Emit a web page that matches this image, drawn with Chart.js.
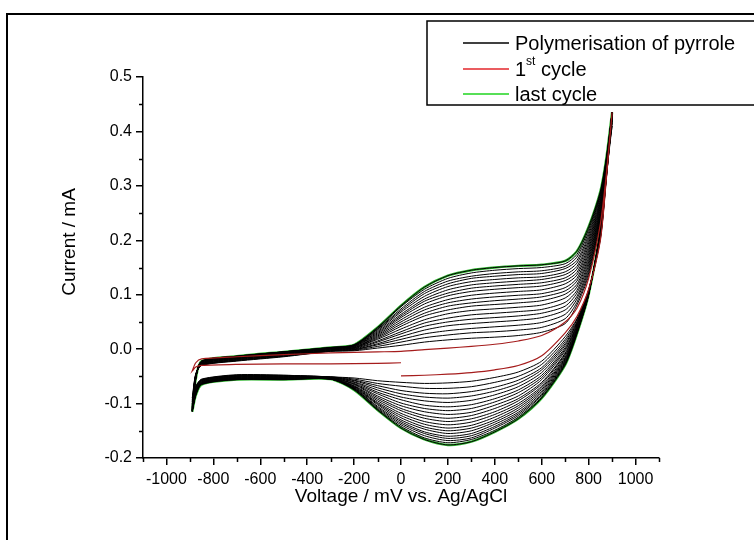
<!DOCTYPE html>
<html>
<head>
<meta charset="utf-8">
<title>Polymerisation of pyrrole</title>
<script src="https://cdn.jsdelivr.net/npm/chart.js@4.4.1/dist/chart.umd.min.js"></script>
<style>
  html, body { margin: 0; padding: 0; background: #fff; }
  canvas { display: block; }
</style>
</head>
<body>
<canvas id="cvChart" width="754" height="540"></canvas>
<script>
const FONT = '"Liberation Sans", Arial, sans-serif';

// potential grid (mV vs. Ag/AgCl) for the anodic and cathodic sweeps
const upVolts = [-890, -875, -850, -700, -500, -300, -200, -100, 0, 100, 200, 300, 400, 500, 600, 700, 750, 800, 850, 875, 900];
const downVolts = [900, 875, 850, 800, 750, 700, 600, 500, 400, 300, 200, 100, 0, -100, -200, -300, -500, -700, -850, -875, -890];

// first cycle starts at 0 mV and sweeps negative first
const firstSweepVolts = [0, -100, -300, -500, -700, -850, -875, -890];
const firstSweepCurrents = [-0.025, -0.026, -0.027, -0.027, -0.028, -0.030, -0.033, -0.040];

// current (mA) on the anodic sweep, one row per cycle (row 0 = 1st cycle)
const upCurrents = [
  [-0.040, -0.025, -0.018, -0.014, -0.010, -0.007, -0.006, -0.005, -0.004, -0.001, 0.002, 0.005, 0.009, 0.015, 0.025, 0.050, 0.075, 0.130, 0.230, 0.320, 0.435],
  [-0.090, -0.045, -0.030, -0.022, -0.014, -0.004, -0.003, 0.002, 0.007, 0.013, 0.017, 0.020, 0.022, 0.025, 0.031, 0.047, 0.081, 0.135, 0.233, 0.322, 0.430],
  [-0.094, -0.046, -0.030, -0.021, -0.013, -0.004, -0.002, 0.005, 0.013, 0.021, 0.026, 0.030, 0.032, 0.035, 0.040, 0.056, 0.086, 0.140, 0.236, 0.323, 0.420],
  [-0.097, -0.047, -0.029, -0.021, -0.013, -0.003, -0.001, 0.008, 0.018, 0.028, 0.034, 0.038, 0.041, 0.044, 0.049, 0.064, 0.092, 0.145, 0.239, 0.325, 0.425],
  [-0.100, -0.047, -0.029, -0.020, -0.012, -0.003, -0.001, 0.010, 0.023, 0.035, 0.043, 0.047, 0.050, 0.053, 0.058, 0.072, 0.097, 0.150, 0.243, 0.326, 0.430],
  [-0.102, -0.048, -0.028, -0.020, -0.011, -0.002, 0.000, 0.013, 0.028, 0.042, 0.050, 0.055, 0.058, 0.061, 0.066, 0.079, 0.103, 0.155, 0.246, 0.328, 0.435],
  [-0.104, -0.048, -0.028, -0.019, -0.011, -0.002, 0.001, 0.015, 0.032, 0.048, 0.057, 0.063, 0.066, 0.069, 0.073, 0.086, 0.108, 0.160, 0.249, 0.329, 0.430],
  [-0.106, -0.049, -0.027, -0.018, -0.010, -0.001, 0.002, 0.018, 0.037, 0.054, 0.065, 0.071, 0.074, 0.077, 0.081, 0.094, 0.114, 0.165, 0.252, 0.331, 0.410],
  [-0.107, -0.049, -0.027, -0.018, -0.009, -0.001, 0.002, 0.020, 0.042, 0.061, 0.072, 0.079, 0.082, 0.085, 0.089, 0.101, 0.119, 0.170, 0.255, 0.333, 0.425],
  [-0.108, -0.050, -0.026, -0.017, -0.009, 0.000, 0.003, 0.022, 0.046, 0.066, 0.079, 0.085, 0.089, 0.092, 0.096, 0.107, 0.125, 0.175, 0.258, 0.334, 0.430],
  [-0.109, -0.050, -0.026, -0.017, -0.008, 0.000, 0.003, 0.024, 0.050, 0.072, 0.085, 0.092, 0.096, 0.099, 0.102, 0.113, 0.130, 0.180, 0.262, 0.336, 0.435],
  [-0.110, -0.051, -0.025, -0.016, -0.008, 0.001, 0.004, 0.026, 0.054, 0.077, 0.091, 0.099, 0.103, 0.106, 0.109, 0.120, 0.136, 0.185, 0.265, 0.337, 0.420],
  [-0.111, -0.051, -0.025, -0.016, -0.007, 0.001, 0.005, 0.028, 0.058, 0.083, 0.098, 0.106, 0.110, 0.113, 0.116, 0.126, 0.141, 0.190, 0.268, 0.339, 0.430],
  [-0.112, -0.052, -0.024, -0.015, -0.007, 0.001, 0.005, 0.030, 0.061, 0.088, 0.103, 0.112, 0.116, 0.119, 0.122, 0.131, 0.147, 0.195, 0.271, 0.341, 0.425],
  [-0.112, -0.052, -0.024, -0.015, -0.006, 0.002, 0.006, 0.032, 0.064, 0.092, 0.109, 0.118, 0.122, 0.125, 0.128, 0.137, 0.152, 0.200, 0.274, 0.342, 0.435],
  [-0.113, -0.053, -0.023, -0.014, -0.006, 0.002, 0.006, 0.034, 0.068, 0.097, 0.115, 0.124, 0.128, 0.131, 0.133, 0.142, 0.158, 0.205, 0.277, 0.344, 0.430],
  [-0.113, -0.053, -0.023, -0.014, -0.005, 0.002, 0.007, 0.036, 0.071, 0.102, 0.120, 0.130, 0.134, 0.137, 0.139, 0.148, 0.163, 0.210, 0.281, 0.345, 0.415],
  [-0.114, -0.054, -0.022, -0.013, -0.005, 0.003, 0.007, 0.037, 0.074, 0.106, 0.125, 0.134, 0.139, 0.142, 0.144, 0.152, 0.169, 0.215, 0.284, 0.347, 0.430],
  [-0.114, -0.054, -0.022, -0.013, -0.005, 0.003, 0.008, 0.039, 0.078, 0.110, 0.130, 0.140, 0.145, 0.148, 0.150, 0.157, 0.174, 0.220, 0.287, 0.348, 0.435],
  [-0.115, -0.055, -0.022, -0.013, -0.005, 0.003, 0.008, 0.040, 0.080, 0.114, 0.135, 0.145, 0.150, 0.153, 0.155, 0.162, 0.180, 0.225, 0.290, 0.350, 0.435]
];

// current (mA) on the cathodic sweep; the 1st cycle stops back at 0 mV
const downCurrents = [
  [0.435, 0.310, 0.200, 0.110, 0.060, 0.030, -0.012, -0.030, -0.038, -0.043, -0.046, -0.048, -0.049],
  [0.430, 0.311, 0.202, 0.109, 0.056, 0.023, -0.022, -0.042, -0.052, -0.059, -0.062, -0.063, -0.061, -0.058, -0.053, -0.051, -0.048, -0.047, -0.055, -0.068, -0.090],
  [0.420, 0.312, 0.204, 0.108, 0.054, 0.018, -0.028, -0.050, -0.061, -0.069, -0.072, -0.072, -0.068, -0.063, -0.055, -0.051, -0.048, -0.048, -0.056, -0.069, -0.094],
  [0.425, 0.313, 0.205, 0.107, 0.051, 0.014, -0.034, -0.057, -0.070, -0.078, -0.082, -0.081, -0.076, -0.067, -0.057, -0.051, -0.049, -0.048, -0.056, -0.070, -0.097],
  [0.430, 0.314, 0.207, 0.107, 0.049, 0.010, -0.038, -0.063, -0.077, -0.086, -0.090, -0.088, -0.082, -0.071, -0.058, -0.052, -0.049, -0.049, -0.057, -0.071, -0.100],
  [0.435, 0.315, 0.208, 0.106, 0.047, 0.007, -0.043, -0.069, -0.084, -0.094, -0.098, -0.095, -0.088, -0.075, -0.060, -0.052, -0.050, -0.049, -0.057, -0.072, -0.102],
  [0.430, 0.316, 0.209, 0.105, 0.045, 0.003, -0.048, -0.075, -0.091, -0.102, -0.106, -0.103, -0.093, -0.079, -0.061, -0.052, -0.050, -0.050, -0.058, -0.073, -0.104],
  [0.410, 0.317, 0.210, 0.105, 0.043, 0.000, -0.052, -0.080, -0.097, -0.109, -0.113, -0.109, -0.099, -0.082, -0.063, -0.053, -0.051, -0.050, -0.058, -0.074, -0.106],
  [0.425, 0.318, 0.211, 0.104, 0.042, -0.003, -0.056, -0.086, -0.103, -0.116, -0.120, -0.115, -0.104, -0.086, -0.064, -0.053, -0.051, -0.051, -0.059, -0.075, -0.107],
  [0.430, 0.319, 0.212, 0.104, 0.040, -0.007, -0.061, -0.091, -0.109, -0.122, -0.127, -0.122, -0.109, -0.089, -0.065, -0.053, -0.052, -0.051, -0.060, -0.076, -0.108],
  [0.435, 0.320, 0.213, 0.103, 0.038, -0.009, -0.064, -0.095, -0.115, -0.128, -0.133, -0.127, -0.113, -0.092, -0.067, -0.054, -0.052, -0.052, -0.060, -0.077, -0.109],
  [0.420, 0.321, 0.214, 0.103, 0.037, -0.012, -0.068, -0.100, -0.120, -0.134, -0.139, -0.133, -0.118, -0.095, -0.068, -0.054, -0.053, -0.052, -0.061, -0.078, -0.110],
  [0.430, 0.322, 0.215, 0.102, 0.035, -0.015, -0.071, -0.104, -0.125, -0.140, -0.145, -0.138, -0.122, -0.098, -0.069, -0.054, -0.053, -0.053, -0.061, -0.079, -0.111],
  [0.425, 0.323, 0.216, 0.102, 0.034, -0.017, -0.074, -0.108, -0.130, -0.145, -0.150, -0.143, -0.126, -0.100, -0.070, -0.054, -0.054, -0.053, -0.062, -0.080, -0.112],
  [0.435, 0.325, 0.216, 0.101, 0.033, -0.019, -0.077, -0.112, -0.134, -0.150, -0.155, -0.147, -0.130, -0.102, -0.071, -0.054, -0.054, -0.054, -0.062, -0.081, -0.112],
  [0.430, 0.326, 0.217, 0.101, 0.032, -0.021, -0.080, -0.116, -0.138, -0.155, -0.160, -0.152, -0.133, -0.105, -0.072, -0.055, -0.055, -0.054, -0.063, -0.082, -0.113],
  [0.415, 0.327, 0.218, 0.101, 0.031, -0.023, -0.083, -0.119, -0.142, -0.159, -0.164, -0.155, -0.136, -0.107, -0.072, -0.055, -0.055, -0.055, -0.063, -0.083, -0.113],
  [0.430, 0.328, 0.218, 0.100, 0.030, -0.025, -0.085, -0.122, -0.145, -0.163, -0.168, -0.159, -0.139, -0.109, -0.073, -0.055, -0.055, -0.055, -0.064, -0.084, -0.114],
  [0.435, 0.329, 0.219, 0.100, 0.029, -0.027, -0.088, -0.125, -0.149, -0.166, -0.172, -0.163, -0.142, -0.111, -0.074, -0.055, -0.056, -0.056, -0.064, -0.084, -0.114],
  [0.435, 0.330, 0.220, 0.100, 0.028, -0.029, -0.090, -0.128, -0.152, -0.170, -0.176, -0.166, -0.145, -0.112, -0.075, -0.055, -0.056, -0.056, -0.065, -0.085, -0.115]
];

// labelled ticks and the unlabelled ones between them
const xMajorTicks = [-1000, -800, -600, -400, -200, 0, 200, 400, 600, 800, 1000];
const xMinorTicks = [-1100, -900, -700, -500, -300, -100, 100, 300, 500, 700, 900, 1100];
const yMajorTicks = [-0.2, -0.1, 0.0, 0.1, 0.2, 0.3, 0.4, 0.5];
const yMinorTicks = [-0.15, -0.05, 0.05, 0.15, 0.25, 0.35, 0.45];

const xTitle = 'Voltage / mV vs. Ag/AgCl';
const yTitle = 'Current / mA';

// one point list per cycle: anodic sweep followed by the cathodic sweep
const cyclePoints = (i) => {
    const pts = [];
    if (i === 0) {
        firstSweepCurrents.forEach((y, j) => pts.push({ x: firstSweepVolts[j], y }));
    }
    upCurrents[i].forEach((y, j) => pts.push({ x: upVolts[j], y }));
    downCurrents[i].forEach((y, j) => pts.push({ x: downVolts[j], y }));
    return pts;
};

const lineSet = (label, data, color, width) => ({
    label,
    data,
    showLine: true,
    borderColor: color,
    borderWidth: width,
    pointRadius: 0,
    tension: 0.25,
    fill: false
});

const lastIdx = upCurrents.length - 1;
const datasets = [lineSet('1st cycle', cyclePoints(0), '#a51c1c', 1.2)];
for (let i = 1; i <= lastIdx; i++) {
    datasets.push(lineSet('Polymerisation of pyrrole', cyclePoints(i), '#000', 1));
}
// last cycle goes underneath so it shows as a green edge
datasets.push(lineSet('last cycle', cyclePoints(lastIdx), '#2fb52f', 2.4));

const legendRows = [
    { color: '#000', parts: [['Polymerisation of pyrrole', false]] },
    { color: '#e3262b', parts: [['1', false], ['st', true], [' cycle', false]] },
    { color: '#1fd41f', parts: [['last cycle', false]] }
];

const decorations = {
    id: 'decorations',
    afterDraw(chart) {
        const { ctx, chartArea: area } = chart;
        const xs = chart.scales.x;
        const ys = chart.scales.y;
        ctx.save();
        ctx.strokeStyle = '#000';
        ctx.fillStyle = '#000';

        // minor ticks
        ctx.lineWidth = 1.5;
        ctx.beginPath();
        xMinorTicks.forEach(v => {
            const px = Math.round(xs.getPixelForValue(v)) + 0.5;
            ctx.moveTo(px, area.bottom);
            ctx.lineTo(px, area.bottom + 4);
        });
        yMinorTicks.forEach(v => {
            const py = Math.round(ys.getPixelForValue(v)) + 0.5;
            ctx.moveTo(area.left, py);
            ctx.lineTo(area.left - 4, py);
        });
        ctx.stroke();

        // axis titles
        ctx.font = '19px ' + FONT;
        ctx.textAlign = 'center';
        ctx.textBaseline = 'middle';
        ctx.fillText(xTitle, (area.left + area.right) / 2, 497);
        ctx.save();
        ctx.translate(70, 242);
        ctx.rotate(-Math.PI / 2);
        ctx.fillText(yTitle, 0, 0);
        ctx.restore();

        // legend box
        ctx.lineWidth = 1.5;
        ctx.strokeRect(427, 21, 340, 84);
        const rowY = [43, 69, 94];
        legendRows.forEach((row, r) => {
            const y = rowY[r];
            ctx.strokeStyle = row.color;
            ctx.lineWidth = 1.5;
            ctx.beginPath();
            ctx.moveTo(463, y);
            ctx.lineTo(509, y);
            ctx.stroke();
            let x = 515;
            ctx.textAlign = 'left';
            row.parts.forEach(([text, sup]) => {
                ctx.font = (sup ? '12px ' : '20px ') + FONT;
                ctx.fillText(text, x, sup ? y - 7 : y + 1);
                x += ctx.measureText(text).width;
            });
        });

        // outer frame
        ctx.strokeStyle = '#000';
        ctx.lineWidth = 2;
        ctx.beginPath();
        ctx.moveTo(7, 545);
        ctx.lineTo(7, 14);
        ctx.lineTo(760, 14);
        ctx.stroke();
        ctx.restore();
    }
};

new Chart(document.getElementById('cvChart'), {
    type: 'scatter',
    data: { datasets },
    options: {
        responsive: false,
        devicePixelRatio: 1,
        animation: false,
        layout: { padding: { left: 0, top: 77, right: 95, bottom: 0 } },
        plugins: { legend: { display: false }, tooltip: { enabled: false } },
        scales: {
            x: {
                type: 'linear',
                min: -1100,
                max: 1100,
                afterFit: s => { s.height = 82; },
                afterBuildTicks: s => { s.ticks = xMajorTicks.map(value => ({ value })); },
                ticks: {
                    autoSkip: false,
                    maxRotation: 0,
                    padding: 5,
                    color: '#000',
                    font: { family: FONT, size: 16 },
                    callback: v => String(v)
                },
                grid: { drawOnChartArea: false, tickLength: 7, color: '#000', lineWidth: 1.5 },
                border: { color: '#000', width: 1.5 }
            },
            y: {
                type: 'linear',
                min: -0.2,
                max: 0.5,
                afterFit: s => { s.width = 143; },
                afterBuildTicks: s => { s.ticks = yMajorTicks.map(value => ({ value })); },
                ticks: {
                    autoSkip: false,
                    padding: 4,
                    color: '#000',
                    font: { family: FONT, size: 16 },
                    callback: v => (Math.abs(v) < 1e-9 ? 0 : v).toFixed(1)
                },
                grid: { drawOnChartArea: false, tickLength: 7, color: '#000', lineWidth: 1.5 },
                border: { color: '#000', width: 1.5 }
            }
        }
    },
    plugins: [decorations]
});
</script>
</body>
</html>
